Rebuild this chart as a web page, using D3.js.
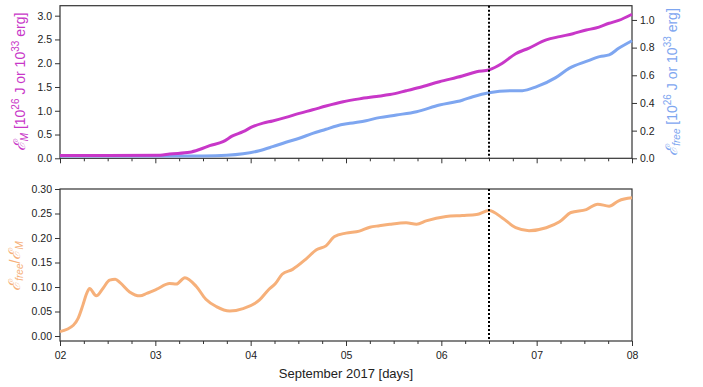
<!DOCTYPE html>
<html><head><meta charset="utf-8">
<script src="https://cdn.jsdelivr.net/npm/d3@7"></script>
<style>
body{margin:0;background:#fff;}
text{font-family:"Liberation Sans",Arial,sans-serif;}
</style></head>
<body><svg id="c" width="703" height="387"></svg>
<script>
// Time in days of September 2017
const emTime = [2.0,2.5,3.05,3.15,3.36,3.47,3.57,3.71,3.81,3.92,4.02,4.13,4.23,4.37,4.51,4.65,4.79,4.97,5.14,5.32,5.46,5.63,5.77,5.98,6.22,6.37,6.5,6.64,6.78,6.92,7.10,7.24,7.38,7.52,7.62,7.76,7.86,8.0];
const emValues = [0.06,0.06,0.065,0.09,0.126,0.19,0.265,0.35,0.47,0.56,0.665,0.74,0.785,0.86,0.945,1.02,1.10,1.19,1.25,1.30,1.34,1.42,1.49,1.61,1.73,1.82,1.86,2.0,2.20,2.32,2.49,2.56,2.62,2.70,2.74,2.84,2.90,3.03];
const freeTime = [2.0,2.5,3.0,3.5,3.75,3.92,4.09,4.23,4.37,4.51,4.65,4.79,4.9,5.04,5.21,5.35,5.53,5.74,5.98,6.22,6.33,6.5,6.75,6.85,7.0,7.2,7.34,7.52,7.66,7.76,7.86,8.0];
const freeValues = [0.017,0.016,0.016,0.017,0.022,0.033,0.055,0.084,0.116,0.145,0.18,0.21,0.234,0.253,0.272,0.294,0.313,0.337,0.385,0.42,0.445,0.474,0.489,0.489,0.518,0.583,0.65,0.70,0.735,0.747,0.795,0.85];
const ratioTime = [2.0,2.14,2.19,2.24,2.28,2.31,2.38,2.45,2.52,2.58,2.63,2.73,2.84,2.91,3.01,3.15,3.22,3.31,3.43,3.53,3.64,3.78,3.92,4.09,4.19,4.26,4.33,4.44,4.58,4.69,4.79,4.88,5.0,5.14,5.25,5.35,5.46,5.63,5.74,5.84,6.05,6.22,6.37,6.5,6.64,6.78,6.92,7.10,7.24,7.36,7.52,7.64,7.76,7.86,8.0];
const ratioValues = [0.009,0.022,0.036,0.063,0.087,0.097,0.082,0.097,0.114,0.116,0.109,0.090,0.082,0.087,0.095,0.107,0.106,0.119,0.101,0.075,0.060,0.051,0.056,0.073,0.095,0.107,0.126,0.136,0.157,0.176,0.184,0.203,0.21,0.214,0.222,0.225,0.228,0.231,0.228,0.235,0.244,0.246,0.248,0.256,0.241,0.221,0.215,0.221,0.233,0.252,0.258,0.269,0.265,0.276,0.282];
const xTickLabels = ["02","03","04","05","06","07","08"];
const emTicks = [0.0,0.5,1.0,1.5,2.0,2.5,3.0];
const freeTicks = [0.0,0.2,0.4,0.6,0.8,1.0];
const ratioTicks = [0.00,0.05,0.10,0.15,0.20,0.25,0.30];
const markerTime = 6.5;

const svg = d3.select("#c");
const L = 60, R = 632;
const axisCol = "#333";
const x = d3.scaleLinear().domain([2,8]).range([L,R]);
const yEm = d3.scaleLinear().domain([0,3.21]).range([158.3,5.7]);
const yFree = d3.scaleLinear().domain([0,1.103]).range([158.3,5.7]);
const yR = d3.scaleLinear().domain([-0.0102,0.30]).range([341,189]);

function styleAxis(g){
  g.selectAll("path,line").attr("stroke",axisCol);
  g.selectAll("text").attr("fill","#222").style("font-size","10.5px").style("font-family","'Liberation Sans',Arial,sans-serif");
}
const minorTicks = d3.range(2,8.001,0.25).filter(v=>Math.abs(v-Math.round(v))>1e-6);

function panel(yScale, top, bottom, showLabels){
  svg.append("rect").attr("x",L).attr("y",top).attr("width",R-L).attr("height",bottom-top)
    .attr("fill","none").attr("stroke",axisCol).attr("stroke-width",1.2);
  const gx = svg.append("g").attr("transform",`translate(0,${bottom})`)
    .call(d3.axisBottom(x).tickValues([2,3,4,5,6,7,8]).tickSize(5).tickPadding(6)
      .tickFormat((d,i)=>showLabels?xTickLabels[i]:""));
  gx.select(".domain").remove();
  styleAxis(gx);
  const gm = svg.append("g").attr("transform",`translate(0,${bottom})`)
    .call(d3.axisBottom(x).tickValues(minorTicks).tickSize(3).tickFormat(""));
  gm.select(".domain").remove();
  styleAxis(gm);
}
panel(yEm, 5.7, 158.3, false);
panel(yR, 189, 341, true);

const gl = svg.append("g").attr("transform",`translate(${L},0)`)
  .call(d3.axisLeft(yEm).tickValues(emTicks).tickSize(5).tickPadding(3).tickFormat(d3.format(".1f")));
gl.select(".domain").remove(); styleAxis(gl);
const gr = svg.append("g").attr("transform",`translate(${R},0)`)
  .call(d3.axisRight(yFree).tickValues(freeTicks).tickSize(5).tickPadding(3).tickFormat(d3.format(".1f")));
gr.select(".domain").remove(); styleAxis(gr);
const gb = svg.append("g").attr("transform",`translate(${L},0)`)
  .call(d3.axisLeft(yR).tickValues(ratioTicks).tickSize(5).tickPadding(3).tickFormat(d3.format(".2f")));
gb.select(".domain").remove(); styleAxis(gb);

function drawLine(t,v,ys,col){
  svg.append("path").datum(t.map((d,i)=>[d,v[i]]))
    .attr("d",d3.line().x(d=>x(d[0])).y(d=>ys(d[1])).curve(d3.curveMonotoneX))
    .attr("fill","none").attr("stroke",col).attr("stroke-width",3).attr("stroke-linejoin","round");
}
drawLine(freeTime,freeValues,yFree,"#7ea6f0");
drawLine(emTime,emValues,yEm,"#c837c8");
drawLine(ratioTime,ratioValues,yR,"#f6b07a");

[[5.7,158.3],[189,341]].forEach(([a,b])=>{
  svg.append("line").attr("x1",x(markerTime)).attr("x2",x(markerTime)).attr("y1",a).attr("y2",b)
    .attr("stroke","#000").attr("stroke-width",2).attr("stroke-dasharray","2,2");
});

function ylab(cx, cy, col, parts){
  const t = svg.append("text").attr("transform",`translate(${cx},${cy}) rotate(-90)`)
    .attr("text-anchor","middle").attr("fill",col).style("font-size","14px");
  parts.forEach(p=>{
    const ts = t.append("tspan").text(p.t);
    if(p.s) ts.style("font-size",p.s);
    if(p.dy) ts.attr("dy",p.dy);
    if(p.it) ts.style("font-style","italic");
  });
}
ylab(25, 82, "#c837c8", [
  {t:"ℰ", it:1, s:"16px"},{t:"M", s:"10px", dy:3, it:1},{t:" [10", dy:-3},{t:"26", s:"10px", dy:-6},
  {t:" J or 10", dy:6},{t:"33", s:"10px", dy:-6},{t:" erg]", dy:6}
]);
ylab(677, 82, "#7ea6f0", [
  {t:"ℰ", it:1, s:"16px"},{t:"free", s:"10px", dy:3, it:1},{t:" [10", dy:-3},{t:"26", s:"10px", dy:-6},
  {t:" J or 10", dy:6},{t:"33", s:"10px", dy:-6},{t:" erg]", dy:6}
]);
ylab(20, 266, "#f6b07a", [
  {t:"ℰ", it:1, s:"16px"},{t:"free", s:"10px", dy:3, it:1},{t:"/", dy:-3},{t:"ℰ", it:1, s:"16px"},{t:"M", s:"10px", dy:3, it:1}
]);
svg.append("text").attr("x",(L+R)/2).attr("y",378).attr("text-anchor","middle")
  .attr("fill","#222").style("font-size","13px").text("September 2017 [days]");
</script></body></html>
